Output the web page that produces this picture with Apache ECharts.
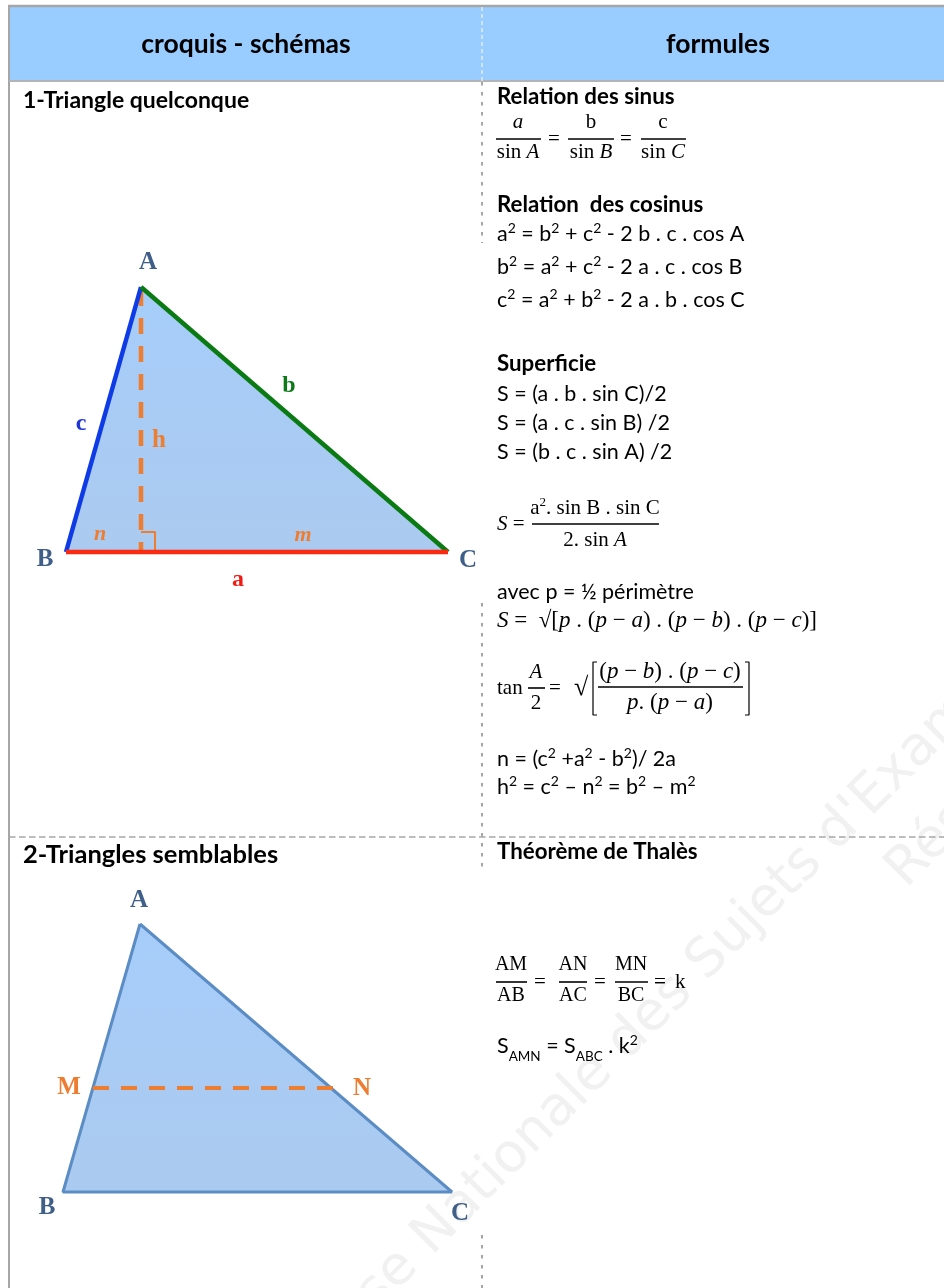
<!DOCTYPE html>
<html>
<head>
<meta charset="utf-8">
<title>croquis - schémas / formules</title>
<script src="https://cdn.jsdelivr.net/npm/echarts@6/dist/echarts.min.js"></script>
<style>
  html, body { margin: 0; padding: 0; background: #fff; }
  #main { width: 944px; height: 1288px; }
</style>
</head>
<body>
<div id="main"></div>
<script>
// the picture is read in pixels, so both axes run 0..944 and 0..1288
const headerBox = [[9, 7], [944, 7], [944, 80], [9, 80]];
const borderTop = [[8, 6], [944, 6]];
const borderLeft = [[9, 5], [9, 1288]];
const headerRule = [[9, 81], [944, 81]];
const sectionRule = [[9, 837], [944, 837]];
const columnHeader = [[482, 7], [482, 81]];
const columnDashes = [
  [[482, 82], [482, 243]],
  [[482, 603], [482, 870]],
  [[482, 1235], [482, 1288]]
];

// triangle 1
const tri1 = [[141, 287], [66, 552], [448, 552]];
const tri1c = [[141, 287], [66, 552]];
const tri1b = [[141, 287], [448, 552]];
const tri1a = [[66, 552], [448, 552]];
const tri1h = [[141, 290], [141, 552]];
const tri1square = [[141, 532], [155, 532], [155, 552]];

// triangle 2
const tri2 = [[140, 924], [63, 1192], [452, 1192], [140, 924]];
const tri2mn = [[93, 1088], [333, 1088]];

// fraction bars, x1 x2 y
const fractionBars = [
  [496, 541, 139], [568, 614, 139], [641, 686, 139],
  [532, 659, 524],
  [528, 545, 688], [598, 743, 687],
  [496, 527, 982], [559, 587, 982], [615, 648, 982]
];
const bracketLeft = [[597, 662], [593, 662], [593, 715], [597, 715]];
const bracketRight = [[745, 662], [749, 662], [749, 715], [745, 715]];

const headerTexts = ['croquis - schémas', 'formules'];
const headerX = [246, 718];
const headerY = [44, 44];

const title1Texts = ['1-Triangle quelconque'];
const title1X = [23];
const title1Y = [101];
const title2Texts = ['2-Triangles semblables'];
const title2X = [23];
const title2Y = [855];

const boldTexts = ['Relation des sinus', 'Relation  des cosinus', 'Superficie', 'Théorème de Thalès'];
const boldX = [497, 497, 497, 497];
const boldY = [97, 205, 364, 852];

const bodyTexts = [
  'a{s|2} = b{s|2} + c{s|2} - 2 b . c . cos A',
  'b{s|2} = a{s|2} + c{s|2} - 2 a . c . cos B',
  'c{s|2} = a{s|2} + b{s|2} - 2 a . b . cos C',
  'S = (a . b . sin C)/2',
  'S = (a . c . sin B) /2',
  'S = (b . c . sin A) /2',
  'avec p = ½ périmètre',
  'n = (c{s|2} +a{s|2} - b{s|2})/ 2a',
  'h{s|2} = c{s|2} – n{s|2} = b{s|2} – m{s|2}',
  'S{u|AMN} = S{u|ABC} . k{s|2}'
];
const bodyX = [497, 497, 497, 497, 497, 497, 497, 497, 497, 497];
const bodyY = [234, 267, 300, 394, 423, 452, 592, 759, 787, 1046];

// serif formulas, left aligned
const mathTexts = ['{i|S} =', 'tan', '=', '=', '=', '=', '=', '=', '=', 'k'];
const mathX = [497, 497, 549, 548, 620, 534, 594, 654, 654, 675];
const mathY = [524, 688, 688, 139, 139, 982, 982, 982, 982, 982];

// the p formulas are set a little wider, like their source
const wideTexts = ['{i|S} =  √[{i|p} . ({i|p} − {i|a}) . ({i|p} − {i|b}) . ({i|p} − {i|c})]'];
const wideX = [497];
const wideY = [621];
const wideCentredTexts = ['({i|p} − {i|b}) . ({i|p} − {i|c})', '{i|p}. ({i|p} − {i|a})'];
const wideCentredX = [670, 670];
const wideCentredY = [672, 703];

// serif formulas, centred on their fraction bar
const centredTexts = [
  '{i|a}', 'b', 'c', 'sin {i|A}', 'sin {i|B}', 'sin {i|C}',
  'a{e|2}. sin B . sin C', '2. sin {i|A}',
  '{i|A}', '2'
];
const centredX = [518, 591, 663, 518, 591, 663, 595, 595, 536, 536];
const centredY = [122, 122, 122, 152, 152, 152, 508, 540, 672, 703];

const thalesTexts = ['AM', 'AB', 'AN', 'AC', 'MN', 'BC'];
const thalesX = [511, 511, 573, 573, 631, 631];
const thalesY = [965, 996, 965, 996, 965, 996];

const rootTexts = ['√'];
const rootX = [574];
const rootY = [688];

const vertexTexts = ['A', 'B', 'C', 'A', 'B', 'C'];
const vertexX = [148, 45, 468, 139, 47, 460];
const vertexY = [263, 560, 561, 901, 1208, 1214];

const sideTexts = ['c', 'b', 'a'];
const sideColors = ['#1f35d8', '#0d7a1a', '#f01c14'];
const sideX = [81, 289, 238];
const sideY = [424, 386, 580];

const orangeTexts = ['h', 'M', 'N'];
const orangeX = [159, 69, 362];
const orangeY = [441, 1088, 1089];
const orangeItalicTexts = ['n', 'm'];
const orangeItalicX = [100, 303];
const orangeItalicY = [534, 535];

const watermarkTexts = ["Base Nationale des Sujets d'Examens"];
const watermarkX = [676];
const watermarkY = [992];
const watermarkTexts2 = ['Résolus'];
const watermarkX2 = [896];
const watermarkY2 = [879];

const SANS = 'Lato';
const SERIF = '"Liberation Serif"';
const GREY = '#a6a6a6';

function lineSeries(name, pts, color, width, dash, z) {
  return {
    name: name, type: 'line', data: pts, showSymbol: false, silent: true, z: z || 3,
    lineStyle: { color: color, width: width, type: dash || 'solid', cap: 'butt' }
  };
}

function polySeries(name, pts, fill, z) {
  return {
    name: name, type: 'custom', data: pts, silent: true, z: z || 2,
    renderItem: function (params, api) {
      if (params.dataIndex !== 0) return null;
      return {
        type: 'polygon',
        shape: { points: pts.map(function (p) { return api.coord(p); }) },
        style: { fill: fill }
      };
    }
  };
}

function textSeries(name, texts, xs, ys, label, z) {
  return {
    name: name, type: 'scatter', symbolSize: 0, silent: true, z: z || 6,
    itemStyle: { opacity: 1 },
    data: texts.map(function (t, i) { return { name: t, value: [xs[i], ys[i]] }; }),
    label: Object.assign({
      show: true, position: 'inside', verticalAlign: 'middle', opacity: 1,
      textBorderWidth: 0,
      formatter: function (p) { return p.name; }
    }, label)
  };
}

const triangleFill = {
  type: 'linear', x: 0, y: 0, x2: 0, y2: 1,
  colorStops: [{ offset: 0, color: '#a6cdfa' }, { offset: 1, color: '#abcaef' }]
};

const sansRich = {
  s: { fontFamily: SANS, fontSize: 14, verticalAlign: 'top', lineHeight: 14, color: '#000', textBorderWidth: 0 },
  u: { fontFamily: SANS, fontSize: 13.5, verticalAlign: 'bottom', lineHeight: 15, padding: [0, 0, -5, 0], color: '#000', textBorderWidth: 0 }
};
function mathLabel(size) {
  return {
    fontFamily: SERIF, fontSize: size, lineHeight: 24, color: '#000',
    rich: {
      i: { fontFamily: SERIF, fontStyle: 'italic', fontSize: size, color: '#000', textBorderWidth: 0 },
      e: { fontFamily: SERIF, fontSize: 13, verticalAlign: 'top', lineHeight: 13, color: '#000', textBorderWidth: 0 }
    }
  };
}

let series = [
  textSeries('watermark', watermarkTexts, watermarkX, watermarkY, {
    fontFamily: '"DejaVu Sans"', fontSize: 54, color: '#f1f1f1', rotate: 45, align: 'center'
  }, 1),
  textSeries('watermark2', watermarkTexts2, watermarkX2, watermarkY2, {
    fontFamily: '"DejaVu Sans"', fontSize: 54, color: '#f1f1f1', rotate: 45, align: 'left'
  }, 1),
  polySeries('header', headerBox, '#99ccff', 1),
  lineSeries('borderTop', borderTop, GREY, 2.5),
  lineSeries('borderLeft', borderLeft, GREY, 2),
  lineSeries('headerRule', headerRule, '#b4b4b4', 2),
  lineSeries('sectionRule', sectionRule, GREY, 1.5, [6.5, 3.5]),
  lineSeries('columnHeader', columnHeader, '#e4ecf4', 1.5, [4, 3])
];
columnDashes.forEach(function (pts, i) {
  series.push(lineSeries('column' + i, pts, GREY, 2, [3.5, 6.5]));
});

series = series.concat([
  polySeries('triangle1', tri1, triangleFill),
  lineSeries('h', tri1h, '#ed7d31', 4.5, [16, 12]),
  lineSeries('square', tri1square, '#ed7d31', 2),
  lineSeries('c', tri1c, '#0f3be6', 4.5),
  lineSeries('b', tri1b, '#0a7a12', 4.5),
  lineSeries('a', tri1a, '#fb2a12', 4.5),
  polySeries('triangle2', tri2.slice(0, 3), triangleFill),
  lineSeries('outline2', tri2, '#5b8dc4', 3),
  lineSeries('mn', tri2mn, '#ed7d31', 4, [16, 12]),
  {
    name: 'fractions', type: 'custom', data: fractionBars, silent: true, z: 4,
    encode: { x: [0, 1], y: 2 },
    renderItem: function (params, api) {
      const a = api.coord([api.value(0), api.value(2)]);
      const b = api.coord([api.value(1), api.value(2)]);
      return {
        type: 'line',
        shape: { x1: a[0], y1: a[1], x2: b[0], y2: b[1] },
        style: { stroke: '#000', lineWidth: 1.6 }
      };
    }
  },
  lineSeries('bracketLeft', bracketLeft, '#000', 1.2),
  lineSeries('bracketRight', bracketRight, '#000', 1.2),
  textSeries('headerTexts', headerTexts, headerX, headerY, {
    fontFamily: SANS, fontWeight: 'bold', fontSize: 26.5, color: '#000', align: 'center'
  }),
  textSeries('title1', title1Texts, title1X, title1Y, {
    fontFamily: SANS, fontWeight: 'bold', fontSize: 23, color: '#000', align: 'left'
  }),
  textSeries('title2', title2Texts, title2X, title2Y, {
    fontFamily: SANS, fontWeight: 'bold', fontSize: 25.5, color: '#000', align: 'left'
  }),
  textSeries('bold', boldTexts, boldX, boldY, {
    fontFamily: SANS, fontWeight: 'bold', fontSize: 22.3, color: '#000', align: 'left'
  }),
  textSeries('body', bodyTexts, bodyX, bodyY, {
    fontFamily: SANS, fontSize: 21.5, lineHeight: 26, color: '#000', align: 'left', rich: sansRich
  }),
  textSeries('math', mathTexts, mathX, mathY, Object.assign({ align: 'left' }, mathLabel(21))),
  textSeries('mathWide', wideTexts, wideX, wideY, Object.assign({ align: 'left' }, mathLabel(23))),
  textSeries('mathWideCentred', wideCentredTexts, wideCentredX, wideCentredY, Object.assign({ align: 'center' }, mathLabel(23))),
  textSeries('mathCentred', centredTexts, centredX, centredY, Object.assign({ align: 'center' }, mathLabel(21))),
  textSeries('thales', thalesTexts, thalesX, thalesY, Object.assign({ align: 'center' }, mathLabel(20))),
  textSeries('root', rootTexts, rootX, rootY, Object.assign({ align: 'left' }, mathLabel(26))),
  textSeries('vertices', vertexTexts, vertexX, vertexY, {
    fontFamily: SERIF, fontWeight: 'bold', fontSize: 25, color: '#3f5f88', align: 'center'
  }),
  textSeries('orange', orangeTexts, orangeX, orangeY, {
    fontFamily: SERIF, fontWeight: 'bold', fontSize: 25, color: '#ed7d31', align: 'center'
  }),
  textSeries('orangeItalic', orangeItalicTexts, orangeItalicX, orangeItalicY, {
    fontFamily: SERIF, fontWeight: 'bold', fontStyle: 'italic', fontSize: 22, color: '#ed7d31', align: 'center'
  })
]);

sideTexts.forEach(function (t, i) {
  series.push(textSeries('side' + t, [t], [sideX[i]], [sideY[i]], {
    fontFamily: SERIF, fontWeight: 'bold', fontSize: 24, color: sideColors[i], align: 'center'
  }));
});

const myChart = echarts.init(document.getElementById('main'));
myChart.setOption({
  animation: false,
  backgroundColor: '#fff',
  grid: { left: 0, right: 0, top: 0, bottom: 0 },
  xAxis: { type: 'value', min: 0, max: 944, show: false },
  yAxis: { type: 'value', min: 0, max: 1288, inverse: true, show: false },
  series: series
});
</script>
</body>
</html>
